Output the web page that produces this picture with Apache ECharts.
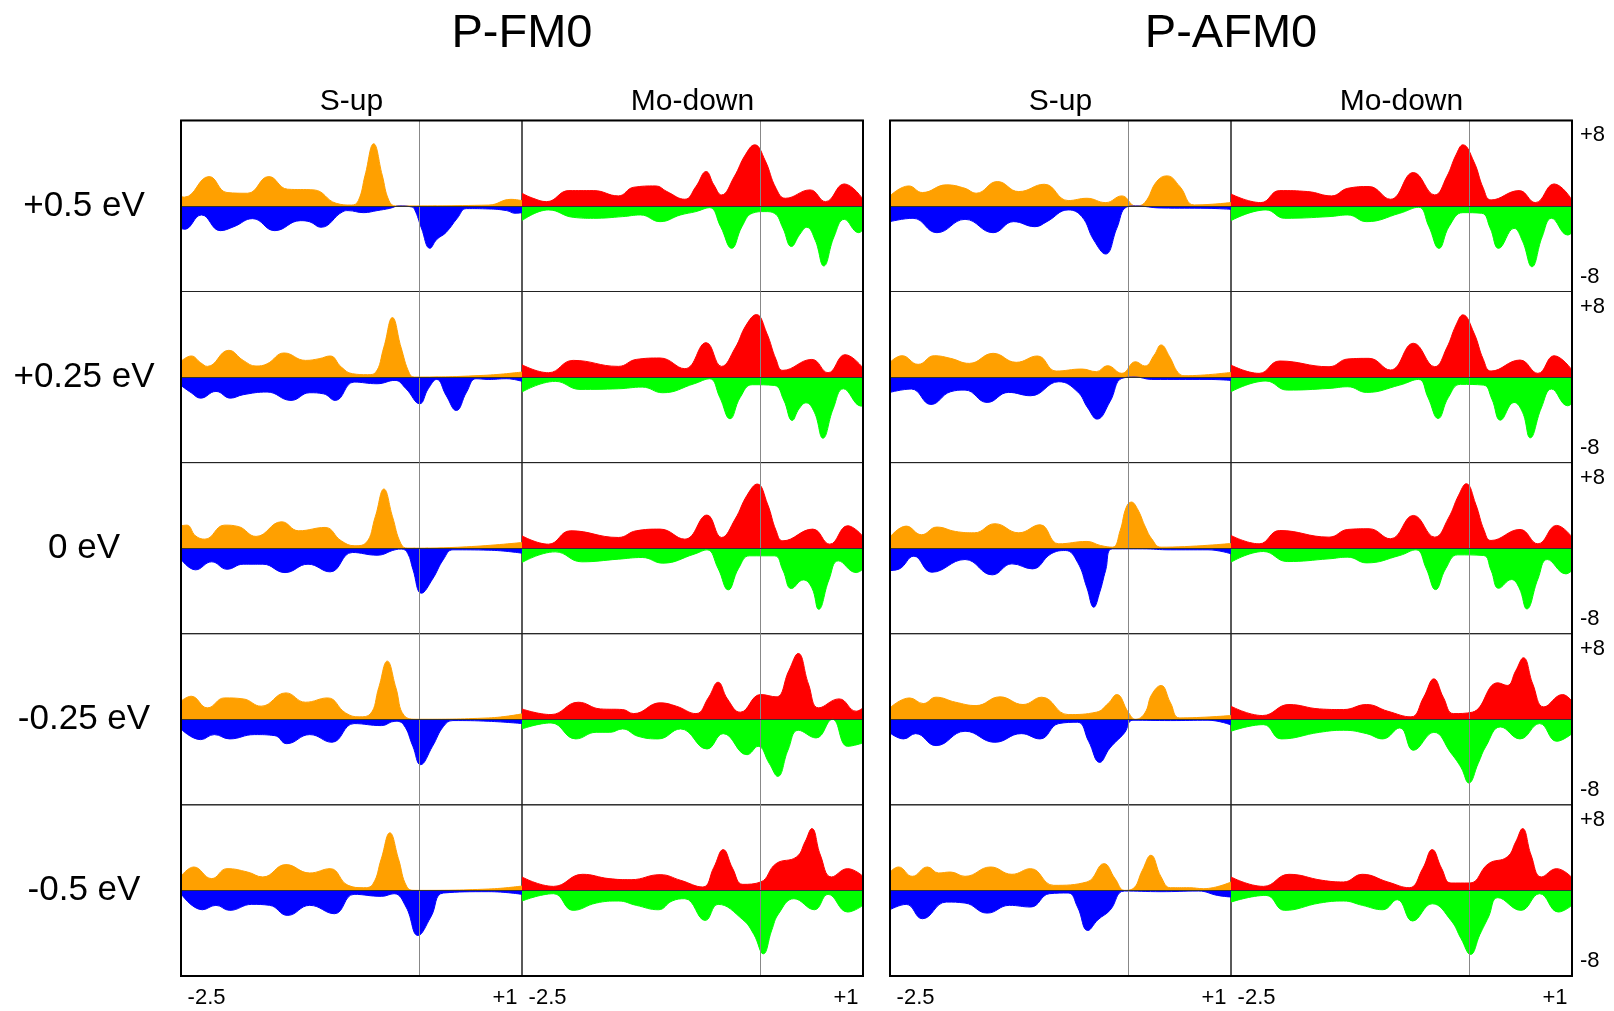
<!DOCTYPE html>
<html><head><meta charset="utf-8">
<script src="https://cdn.jsdelivr.net/npm/echarts@6/dist/echarts.min.js"></script>
<style>html,body{margin:0;padding:0;background:#fff}#c{width:1614px;height:1011px}</style>
</head><body><div id="c"></div><script>
// ---------- labels ----------
const panelTitles = ['P-FM0', 'P-AFM0'];
const columnTitles = ['S-up', 'Mo-down'];
const rowLabels = ['+0.5 eV', '+0.25 eV', '0 eV', '-0.25 eV', '-0.5 eV'];
const xTickValues = [-2.5, 1];
const xTickLabels = ['-2.5', '+1'];
const yTickValues = [-8, 8];
const yTickLabels = ['-8', '+8'];

// ---------- P-FM0 data ([energy eV, DOS]) ----------
const FM_SUP_UP_1 = [[-2.8,1.06],[-2.76,1.0],[-2.47,3.33],[-2.26,1.52],[-2.02,1.44],[-1.77,3.33],[-1.55,1.9],[-1.24,1.82],[-0.98,0.3],[-0.8,0.1],[-0.72,0.6],[-0.64,3.5],[-0.54,7.05],[-0.44,3.5],[-0.36,0.6],[-0.28,0],[0.81,0.1],[1.07,0.75],[1.2,0.6]];
const FM_SUP_DN_1 = [[-2.8,-2.54],[-2.76,-2.65],[-2.56,-1.02],[-2.34,-2.8],[-2.18,-2.35],[-1.96,-1.44],[-1.7,-2.8],[-1.4,-1.67],[-1.29,-1.8],[-1.16,-2.42],[-0.9,-0.64],[-0.84,-0.53],[-0.66,-0.76],[-0.5,-0.53],[-0.35,-0.27],[-0.24,0],[-0.1,-0.1],[-0.06,-0.4],[0.02,-2.5],[0.12,-4.8],[0.2,-3.8],[0.31,-3.0],[0.44,-1.4],[0.55,-0.3],[0.81,-0.34],[1.02,-0.53],[1.12,-0.83],[1.2,-0.76]];
const FM_MO_UP_1 = [[-2.8,1.44],[-2.67,0.87],[-2.51,0.49],[-2.25,1.74],[-1.96,1.74],[-1.67,1.14],[-1.49,2.12],[-1.23,2.27],[-1.1,1.63],[-0.89,0.76],[-0.76,2.2],[-0.64,3.9],[-0.55,2.4],[-0.46,1.25],[-0.31,3.33],[-0.18,5.8],[-0.07,6.93],[0.05,5.2],[0.18,2.0],[0.29,0.87],[0.58,1.82],[0.76,0.49],[0.98,2.5],[1.2,0.76]];
const FM_MO_DN_1 = [[-2.8,-1.67],[-2.49,-0.45],[-2.2,-1.29],[-1.96,-1.4],[-1.62,-1.21],[-1.41,-1.02],[-1.18,-1.78],[-0.94,-1.02],[-0.76,-0.64],[-0.6,-0.19],[-0.47,-2.35],[-0.34,-4.8],[-0.22,-2.35],[-0.1,-0.83],[0.05,-0.64],[0.16,-0.83],[0.26,-2.5],[0.36,-4.6],[0.46,-3.2],[0.54,-2.42],[0.64,-3.9],[0.74,-6.8],[0.86,-3.5],[0.98,-1.52],[1.15,-3.03],[1.2,-2.73]];

const FM_SUP_UP_2 = [[-2.8,1.78],[-2.68,2.39],[-2.57,1.63],[-2.49,1.21],[-2.24,3.03],[-2.07,1.89],[-1.92,1.25],[-1.79,1.5],[-1.59,2.73],[-1.34,1.89],[-1.18,2.08],[-1.05,2.39],[-0.92,1.14],[-0.79,0.38],[-0.61,0.27],[-0.52,0.5],[-0.42,3.4],[-0.32,6.74],[-0.22,3.4],[-0.12,0.4],[-0.06,0],[0.75,0.19],[1.2,0.57]];
const FM_SUP_DN_2 = [[-2.8,-0.95],[-2.68,-1.78],[-2.57,-2.39],[-2.39,-1.63],[-2.22,-2.39],[-2.07,-2.0],[-1.79,-1.7],[-1.51,-2.65],[-1.29,-1.78],[-1.13,-1.9],[-0.99,-2.65],[-0.77,-0.57],[-0.5,-0.76],[-0.29,-0.38],[-0.16,-1.33],[0.0,-3.03],[0.1,-1.33],[0.2,-0.27],[0.31,-2.08],[0.43,-3.79],[0.55,-1.7],[0.66,-0.19],[0.81,-0.27],[1.02,-0.19],[1.2,-0.49]];
const FM_MO_UP_2 = [[-2.8,1.4],[-2.49,0.49],[-2.2,1.89],[-1.67,1.21],[-1.46,2.0],[-1.18,2.16],[-0.89,0.95],[-0.64,3.9],[-0.46,1.21],[-0.3,3.3],[-0.17,5.9],[-0.05,7.08],[0.07,5.0],[0.18,2.0],[0.26,0.76],[0.6,2.0],[0.79,0.49],[0.99,2.54],[1.2,1.02]];
const FM_MO_DN_2 = [[-2.8,-1.7],[-2.41,-0.49],[-2.12,-1.4],[-1.67,-1.33],[-1.39,-1.14],[-1.15,-1.78],[-0.78,-0.76],[-0.6,-0.19],[-0.48,-2.3],[-0.36,-4.73],[-0.24,-2.3],[-0.1,-0.87],[0.16,-0.95],[0.27,-2.6],[0.37,-4.92],[0.45,-3.6],[0.53,-2.92],[0.63,-4.0],[0.73,-6.93],[0.85,-3.6],[0.97,-1.33],[1.18,-3.3],[1.2,-3.14]];

const FM_SUP_UP_3 = [[-2.8,2.54],[-2.73,2.61],[-2.63,1.4],[-2.52,1.02],[-2.29,2.61],[-2.13,2.46],[-1.92,1.33],[-1.62,2.99],[-1.42,1.97],[-1.11,2.35],[-0.92,0.83],[-0.76,0.27],[-0.63,0.6],[-0.52,3.6],[-0.42,6.7],[-0.32,3.6],[-0.22,0.5],[-0.14,0],[0.55,0.15],[1.2,0.64]];
const FM_SUP_DN_3 = [[-2.8,-1.25],[-2.63,-2.46],[-2.44,-1.55],[-2.26,-2.39],[-2.07,-1.82],[-1.84,-1.82],[-1.58,-2.77],[-1.31,-1.82],[-1.05,-2.69],[-0.79,-0.49],[-0.5,-0.8],[-0.29,-0.19],[-0.21,-0.11],[-0.14,-0.6],[-0.08,-2.39],[0.02,-5.11],[0.15,-3.52],[0.28,-1.25],[0.39,-0.19],[0.81,-0.23],[1.2,-0.57]];
const FM_MO_UP_3 = [[-2.8,1.4],[-2.49,0.45],[-2.23,1.97],[-1.67,1.21],[-1.46,1.97],[-1.18,2.16],[-0.89,1.02],[-0.63,3.75],[-0.46,1.21],[-0.3,3.3],[-0.16,6.0],[-0.04,7.27],[0.08,5.0],[0.18,2.0],[0.26,0.83],[0.61,2.16],[0.81,0.45],[1.02,2.54],[1.2,1.33]];
const FM_MO_DN_3 = [[-2.8,-1.63],[-2.41,-0.42],[-2.1,-1.55],[-1.67,-1.25],[-1.39,-1.06],[-1.15,-1.7],[-0.78,-0.68],[-0.63,-0.19],[-0.5,-2.3],[-0.38,-4.73],[-0.26,-2.3],[-0.13,-0.87],[0.16,-0.87],[0.26,-2.5],[0.36,-4.58],[0.5,-3.6],[0.6,-4.5],[0.68,-6.93],[0.8,-3.6],[0.91,-1.44],[1.12,-2.77],[1.2,-2.39]];

const FM_SUP_UP_4 = [[-2.8,2.05],[-2.68,2.61],[-2.49,1.29],[-2.29,2.42],[-2.07,2.31],[-1.86,1.48],[-1.57,2.99],[-1.34,1.93],[-1.08,2.42],[-0.87,0.72],[-0.71,0.27],[-0.58,0.6],[-0.48,3.6],[-0.38,6.59],[-0.28,3.6],[-0.18,0.4],[-0.03,0],[0.81,0.15],[1.2,0.61]];
const FM_SUP_DN_4 = [[-2.8,-1.1],[-2.57,-2.31],[-2.41,-1.74],[-2.23,-2.23],[-1.94,-1.74],[-1.7,-1.86],[-1.56,-2.77],[-1.29,-1.74],[-1.03,-2.61],[-0.77,-0.49],[-0.45,-0.72],[-0.29,-0.23],[-0.19,-0.61],[-0.08,-3.07],[0.01,-5.15],[0.15,-3.07],[0.28,-0.8],[0.39,-0.15],[0.81,-0.23],[1.2,-0.49]];
const FM_MO_UP_4 = [[-2.8,1.17],[-2.46,0.53],[-2.14,1.93],[-1.88,1.17],[-1.62,1.1],[-1.49,0.64],[-1.18,1.86],[-0.99,1.48],[-0.76,0.64],[-0.61,2.5],[-0.5,4.2],[-0.39,2.3],[-0.24,0.8],[0.0,2.8],[0.18,2.54],[0.33,5.5],[0.44,7.46],[0.56,4.0],[0.68,1.29],[0.92,2.31],[1.12,0.91],[1.2,1.29]];
const FM_MO_DN_4 = [[-2.8,-1.1],[-2.46,-0.42],[-2.17,-2.23],[-1.93,-1.48],[-1.77,-1.48],[-1.62,-1.1],[-1.44,-1.93],[-1.2,-2.23],[-0.94,-1.1],[-0.63,-3.37],[-0.44,-1.63],[-0.16,-4.02],[-0.03,-3.07],[0.1,-5.0],[0.2,-6.48],[0.32,-3.5],[0.44,-1.25],[0.65,-2.12],[0.84,0],[1.02,-3.07],[1.2,-2.69]];

const FM_SUP_UP_5 = [[-2.8,1.59],[-2.65,2.65],[-2.44,1.33],[-2.26,2.46],[-2.02,2.08],[-1.84,1.52],[-1.57,2.92],[-1.29,1.97],[-1.05,2.46],[-0.84,0.57],[-0.66,0.3],[-0.55,0.7],[-0.45,3.6],[-0.35,6.52],[-0.25,3.6],[-0.15,0.4],[-0.05,0],[0.81,0.15],[1.2,0.49]];
const FM_SUP_DN_5 = [[-2.8,-0.38],[-2.55,-2.2],[-2.39,-1.7],[-2.23,-2.27],[-1.97,-1.59],[-1.76,-1.7],[-1.55,-2.84],[-1.29,-1.7],[-1.0,-2.65],[-0.77,-0.45],[-0.45,-0.68],[-0.3,-0.38],[-0.16,-1.89],[-0.02,-5.11],[0.13,-3.03],[0.28,-0.3],[0.81,-0.15],[1.2,-0.45]];
const FM_MO_UP_5 = [[-2.8,1.52],[-2.43,0.45],[-2.09,1.82],[-1.78,1.33],[-1.52,1.21],[-1.18,1.78],[-0.94,1.14],[-0.68,0.38],[-0.55,2.6],[-0.44,4.62],[-0.33,2.5],[-0.21,0.68],[0.0,0.95],[0.18,3.03],[0.42,3.79],[0.52,5.5],[0.6,7.0],[0.7,4.0],[0.83,1.52],[1.02,2.46],[1.2,1.59]];
const FM_MO_DN_5 = [[-2.8,-1.21],[-2.43,-0.38],[-2.2,-2.27],[-1.93,-1.44],[-1.67,-1.21],[-1.46,-1.7],[-1.2,-2.2],[-1.04,-1.21],[-0.89,-0.95],[-0.65,-3.41],[-0.5,-1.59],[-0.21,-3.33],[-0.08,-5.0],[0.03,-7.2],[0.13,-4.5],[0.21,-2.65],[0.39,-0.95],[0.63,-2.2],[0.79,-0.45],[1.02,-2.46],[1.2,-1.7]];

// ---------- P-AFM0 data ----------
const AFM_SUP_UP_1 = [[-2.8,1.14],[-2.58,2.27],[-2.42,1.52],[-2.14,2.39],[-1.92,2.0],[-1.79,1.44],[-1.54,2.77],[-1.29,1.63],[-0.99,2.46],[-0.71,0.61],[-0.49,0.87],[-0.27,0.38],[-0.08,1.14],[0.08,0],[0.19,0.4],[0.33,2.8],[0.45,3.41],[0.6,2.2],[0.77,0.11],[1.2,0.38]];
const AFM_SUP_DN_1 = [[-2.8,-1.78],[-2.53,-1.4],[-2.25,-3.03],[-1.92,-1.52],[-1.59,-3.03],[-1.35,-1.78],[-1.1,-2.35],[-0.96,-1.78],[-0.71,-0.45],[-0.55,-1.21],[-0.41,-3.86],[-0.27,-5.45],[-0.14,-2.54],[-0.03,-0.15],[0.08,0],[0.38,-0.23],[0.93,-0.27],[1.2,-0.38]];
const AFM_MO_UP_1 = [[-2.8,1.36],[-2.45,0.38],[-2.23,1.74],[-1.9,1.63],[-1.62,1.14],[-1.43,2.0],[-1.18,2.2],[-0.93,0.76],[-0.66,3.79],[-0.41,1.25],[-0.27,3.3],[-0.16,5.8],[-0.08,6.93],[0.05,5.0],[0.16,2.0],[0.25,0.68],[0.58,1.74],[0.77,0.38],[0.99,2.5],[1.2,0.68]];
const AFM_MO_DN_1 = [[-2.8,-1.67],[-2.39,-0.45],[-2.17,-1.4],[-1.65,-1.21],[-1.43,-1.02],[-1.21,-1.78],[-0.82,-0.83],[-0.6,-0.15],[-0.48,-2.3],[-0.36,-4.81],[-0.24,-2.3],[-0.08,-0.76],[0.14,-0.83],[0.24,-2.5],[0.34,-4.81],[0.52,-2.54],[0.62,-4.0],[0.73,-6.89],[0.85,-3.5],[0.96,-1.4],[1.15,-3.3],[1.2,-3.03]];

const AFM_SUP_UP_2 = [[-2.8,1.67],[-2.66,2.42],[-2.47,1.44],[-2.28,2.42],[-2.09,2.12],[-1.87,1.55],[-1.59,2.69],[-1.32,1.67],[-1.07,2.39],[-0.85,0.68],[-0.55,0.91],[-0.38,0.61],[-0.25,1.29],[-0.08,0.42],[0.08,1.74],[0.19,1.25],[0.3,2.5],[0.38,3.64],[0.48,2.3],[0.58,0.5],[0.66,0.15],[1.2,0.53]];
const AFM_SUP_DN_2 = [[-2.8,-1.74],[-2.55,-1.36],[-2.32,-3.11],[-2.09,-1.67],[-1.92,-1.48],[-1.66,-2.88],[-1.41,-1.74],[-1.15,-2.12],[-0.82,-0.53],[-0.6,-1.67],[-0.48,-3.5],[-0.37,-4.77],[-0.22,-2.8],[-0.08,-0.15],[0.08,0],[0.27,-0.27],[0.93,-0.27],[1.2,-0.38]];
const AFM_MO_UP_2 = [[-2.8,1.36],[-2.47,0.42],[-2.23,1.82],[-1.65,1.17],[-1.43,2.05],[-1.18,2.12],[-0.93,0.8],[-0.66,3.83],[-0.41,1.17],[-0.27,3.3],[-0.16,5.9],[-0.08,7.05],[0.05,5.0],[0.16,2.0],[0.25,0.68],[0.59,1.93],[0.8,0.42],[0.99,2.42],[1.2,0.8]];
const AFM_MO_DN_2 = [[-2.8,-1.67],[-2.39,-0.45],[-2.14,-1.48],[-1.65,-1.29],[-1.43,-1.1],[-1.21,-1.74],[-0.82,-0.91],[-0.6,-0.27],[-0.49,-2.3],[-0.37,-4.7],[-0.25,-2.3],[-0.11,-0.83],[0.16,-0.91],[0.26,-2.5],[0.36,-4.89],[0.52,-2.88],[0.62,-4.0],[0.71,-6.89],[0.84,-3.5],[0.96,-1.36],[1.15,-3.26],[1.2,-2.99]];

const AFM_SUP_UP_3 = [[-2.8,1.25],[-2.61,2.5],[-2.43,1.52],[-2.25,2.39],[-2.03,1.89],[-1.81,1.74],[-1.57,2.77],[-1.29,1.74],[-1.04,2.65],[-0.82,0.49],[-0.49,0.76],[-0.33,0.3],[-0.19,0.11],[-0.1,2.0],[-0.03,4.6],[0.03,5.23],[0.1,4.5],[0.2,2.3],[0.27,1.06],[0.38,0.11],[1.2,0.53]];
const AFM_SUP_DN_3 = [[-2.8,-2.54],[-2.69,-2.35],[-2.52,-0.91],[-2.31,-2.73],[-1.92,-1.29],[-1.6,-3.03],[-1.37,-1.78],[-1.13,-2.35],[-0.91,-0.64],[-0.74,-0.27],[-0.6,-1.6],[-0.49,-4.5],[-0.41,-6.7],[-0.34,-5.0],[-0.27,-2.5],[-0.19,-0.08],[0.16,-0.08],[0.49,-0.19],[0.93,-0.19],[1.2,-0.64]];
const AFM_MO_UP_3 = [[-2.8,1.44],[-2.47,0.49],[-2.23,2.0],[-1.65,1.25],[-1.43,2.12],[-1.18,2.2],[-0.93,1.06],[-0.66,3.71],[-0.41,1.25],[-0.25,3.4],[-0.13,6.0],[-0.04,7.31],[0.07,5.0],[0.17,2.0],[0.25,0.87],[0.59,2.12],[0.8,0.49],[1.02,2.58],[1.2,1.25]];
const AFM_MO_DN_3 = [[-2.8,-1.59],[-2.42,-0.38],[-2.14,-1.52],[-1.65,-1.21],[-1.43,-1.02],[-1.21,-1.67],[-0.82,-0.83],[-0.63,-0.19],[-0.51,-2.3],[-0.4,-4.7],[-0.28,-2.3],[-0.14,-0.76],[0.16,-0.83],[0.25,-2.5],[0.34,-4.55],[0.49,-3.56],[0.58,-4.5],[0.67,-6.89],[0.8,-3.5],[0.91,-1.29],[1.13,-2.92],[1.2,-2.54]];

const AFM_SUP_UP_4 = [[-2.8,1.29],[-2.57,2.42],[-2.41,1.78],[-2.26,2.5],[-2.03,1.93],[-1.79,1.55],[-1.51,2.54],[-1.24,1.67],[-1.02,2.5],[-0.71,0.53],[-0.38,0.8],[-0.24,1.8],[-0.14,2.8],[0.0,0.72],[0.08,0],[0.19,0.72],[0.27,2.8],[0.38,3.83],[0.49,1.86],[0.6,0.15],[1.2,0.42]];
const AFM_SUP_DN_4 = [[-2.8,-1.55],[-2.64,-2.23],[-2.5,-1.63],[-2.26,-2.99],[-1.92,-1.36],[-1.57,-2.61],[-1.26,-1.63],[-1.04,-2.23],[-0.82,-0.49],[-0.6,-0.34],[-0.47,-2.5],[-0.34,-4.89],[-0.22,-3.26],[-0.05,-1.55],[0.05,-0.11],[0.49,-0.15],[0.93,-0.11],[1.2,-0.64]];
const AFM_MO_UP_4 = [[-2.8,1.48],[-2.43,0.42],[-2.12,1.67],[-1.76,1.17],[-1.48,1.1],[-1.21,1.67],[-0.96,0.91],[-0.69,0.27],[-0.54,2.5],[-0.42,4.58],[-0.31,2.5],[-0.19,0.64],[0.03,0.8],[0.33,4.13],[0.44,3.83],[0.54,5.5],[0.63,6.97],[0.74,4.0],[0.87,1.4],[1.09,2.8],[1.2,2.05]];
const AFM_MO_DN_4 = [[-2.8,-1.36],[-2.42,-0.61],[-2.21,-2.23],[-1.76,-1.48],[-1.48,-1.25],[-1.21,-1.63],[-1.02,-2.23],[-0.82,-0.98],[-0.66,-3.52],[-0.42,-1.48],[-0.22,-3.83],[-0.1,-5.5],[-0.01,-7.23],[0.1,-5.0],[0.19,-3.07],[0.36,-0.87],[0.59,-2.23],[0.82,-0.49],[1.02,-2.5],[1.2,-1.63]];

const AFM_SUP_UP_5 = [[-2.8,2.08],[-2.7,2.65],[-2.54,1.59],[-2.36,2.65],[-2.23,1.97],[-2.09,2.08],[-1.92,1.59],[-1.62,2.65],[-1.37,1.82],[-1.15,2.46],[-0.88,0.57],[-0.49,0.95],[-0.29,3.03],[-0.16,1.33],[-0.05,0],[0.05,0.19],[0.16,2.27],[0.26,3.98],[0.38,1.52],[0.49,0.3],[0.71,0.3],[0.88,0.19],[1.2,0.95]];
const AFM_SUP_DN_5 = [[-2.8,-2.2],[-2.61,-1.59],[-2.42,-3.22],[-2.14,-1.33],[-1.92,-1.44],[-1.66,-2.58],[-1.4,-1.7],[-1.15,-1.89],[-0.93,-0.38],[-0.71,-0.3],[-0.6,-1.89],[-0.48,-4.55],[-0.36,-3.33],[-0.22,-2.27],[-0.05,-0.08],[0.38,-0.15],[0.82,-0.08],[1.04,-0.57],[1.2,-0.76]];
const AFM_MO_UP_5 = [[-2.8,1.52],[-2.42,0.45],[-2.12,1.82],[-1.73,1.14],[-1.48,0.95],[-1.26,1.82],[-0.96,0.95],[-0.71,0.3],[-0.55,2.5],[-0.44,4.62],[-0.33,2.5],[-0.22,0.83],[0.0,0.83],[0.22,3.03],[0.44,3.79],[0.54,5.5],[0.62,7.0],[0.72,4.0],[0.84,1.52],[1.02,2.46],[1.2,1.44]];
const AFM_MO_DN_5 = [[-2.8,-1.33],[-2.39,-0.57],[-2.17,-2.27],[-1.76,-1.44],[-1.48,-1.21],[-1.26,-1.7],[-1.02,-2.2],[-0.85,-1.06],[-0.67,-3.48],[-0.44,-1.52],[-0.22,-3.41],[-0.1,-5.5],[0.01,-7.27],[0.12,-5.0],[0.22,-3.03],[0.33,-0.83],[0.6,-2.27],[0.82,-0.38],[1.04,-2.46],[1.2,-1.7]];

// cells[panel][row][col] = [upCurve, downCurve]
const CELLS = [
  [
    [[FM_SUP_UP_1, FM_SUP_DN_1], [FM_MO_UP_1, FM_MO_DN_1]],
    [[FM_SUP_UP_2, FM_SUP_DN_2], [FM_MO_UP_2, FM_MO_DN_2]],
    [[FM_SUP_UP_3, FM_SUP_DN_3], [FM_MO_UP_3, FM_MO_DN_3]],
    [[FM_SUP_UP_4, FM_SUP_DN_4], [FM_MO_UP_4, FM_MO_DN_4]],
    [[FM_SUP_UP_5, FM_SUP_DN_5], [FM_MO_UP_5, FM_MO_DN_5]]
  ],
  [
    [[AFM_SUP_UP_1, AFM_SUP_DN_1], [AFM_MO_UP_1, AFM_MO_DN_1]],
    [[AFM_SUP_UP_2, AFM_SUP_DN_2], [AFM_MO_UP_2, AFM_MO_DN_2]],
    [[AFM_SUP_UP_3, AFM_SUP_DN_3], [AFM_MO_UP_3, AFM_MO_DN_3]],
    [[AFM_SUP_UP_4, AFM_SUP_DN_4], [AFM_MO_UP_4, AFM_MO_DN_4]],
    [[AFM_SUP_UP_5, AFM_SUP_DN_5], [AFM_MO_UP_5, AFM_MO_DN_5]]
  ]
];

// ---------- layout / style ----------
const FONT = '"Liberation Sans", Arial, sans-serif';
const COLORS = [['#FFA000', '#0000FF'], ['#FF0000', '#00FF00']];
const PANEL_LEFT = [181, 890];
const CELL_W = 341;
const TOP = 120.4;
const CELL_H = 171.1;
const X_MIN = -2.8, X_MAX = 1.2, Y_LIM = 9.7;

const grids = [], xAxes = [], yAxes = [], series = [];
let idx = 0;
for (let p = 0; p < 2; p++) {
  for (let r = 0; r < 5; r++) {
    for (let c = 0; c < 2; c++) {
      grids.push({
        left: PANEL_LEFT[p] + c * CELL_W, top: TOP + r * CELL_H,
        width: CELL_W, height: CELL_H,
        show: true, borderColor: '#222', borderWidth: 1, backgroundColor: 'transparent'
      });
      const bottomRow = r === 4;
      xAxes.push({
        type: 'value', gridIndex: idx, min: X_MIN, max: X_MAX,
        axisLine: { show: false }, axisTick: { show: false }, splitLine: { show: false },
        axisLabel: bottomRow ? {
          show: true, customValues: xTickValues, margin: 11,
          fontSize: 22, fontFamily: FONT, color: '#000',
          formatter: v => xTickLabels[xTickValues.findIndex(t => Math.abs(t - v) < 1e-6)] || ''
        } : { show: false }
      });
      const rightCol = p === 1 && c === 1;
      yAxes.push({
        type: 'value', gridIndex: idx, min: -Y_LIM, max: Y_LIM,
        position: rightCol ? 'right' : 'left',
        axisLine: { show: false }, axisTick: { show: false }, splitLine: { show: false },
        axisLabel: rightCol ? {
          show: true, customValues: yTickValues, margin: 8,
          fontSize: 22, fontFamily: FONT, color: '#000',
          formatter: v => yTickLabels[yTickValues.findIndex(t => Math.abs(t - v) < 1e-6)] || ''
        } : { show: false }
      });
      const [up, dn] = CELLS[p][r][c];
      series.push({
        type: 'line', xAxisIndex: idx, yAxisIndex: idx, data: up,
        smooth: 0.45, symbol: 'none', silent: true, z: 2,
        lineStyle: { width: 1, color: COLORS[c][0] },
        areaStyle: { color: COLORS[c][0], opacity: 1 }
      });
      series.push({
        type: 'line', xAxisIndex: idx, yAxisIndex: idx, data: dn,
        smooth: 0.45, symbol: 'none', silent: true, z: 3,
        lineStyle: { width: 1, color: COLORS[c][1] },
        areaStyle: { color: COLORS[c][1], opacity: 1 },
        markLine: {
          silent: true, symbol: ['none', 'none'], label: { show: false },
          animation: false,
          data: [
            { xAxis: 0, lineStyle: { color: '#888', width: 1, type: 'solid' } },
            { yAxis: 0, lineStyle: { color: '#333', width: 1.2, type: 'solid' } }
          ]
        }
      });
      idx++;
    }
  }
}

const graphic = [];
for (let p = 0; p < 2; p++) {
  const cx = PANEL_LEFT[p] + CELL_W;
  graphic.push({ type: 'text', x: cx, y: 34, z: 10,
    style: { text: panelTitles[p], font: '47px ' + FONT, fill: '#000',
      textAlign: 'center', textVerticalAlign: 'middle', align: 'center', verticalAlign: 'middle' } });
  for (let c = 0; c < 2; c++) {
    graphic.push({ type: 'text', x: PANEL_LEFT[p] + c * CELL_W + CELL_W / 2, y: 102, z: 10,
      style: { text: columnTitles[c], font: '30px ' + FONT, fill: '#000',
        textAlign: 'center', textVerticalAlign: 'middle', align: 'center', verticalAlign: 'middle' } });
  }
  graphic.push({ type: 'rect', z: 20, silent: true,
    shape: { x: PANEL_LEFT[p], y: TOP, width: 2 * CELL_W, height: 5 * CELL_H },
    style: { fill: 'none', stroke: '#000', lineWidth: 2 } });
}
for (let r = 0; r < 5; r++) {
  graphic.push({ type: 'text', x: 84, y: TOP + r * CELL_H + 86, z: 10,
    style: { text: rowLabels[r], font: '35px ' + FONT, fill: '#000',
      textAlign: 'center', textVerticalAlign: 'middle', align: 'center', verticalAlign: 'middle' } });
}

const chart = echarts.init(document.getElementById('c'), null, { renderer: 'canvas' });
chart.setOption({
  animation: false,
  backgroundColor: '#fff',
  grid: grids, xAxis: xAxes, yAxis: yAxes, series: series,
  graphic: graphic
});
</script></body></html>
